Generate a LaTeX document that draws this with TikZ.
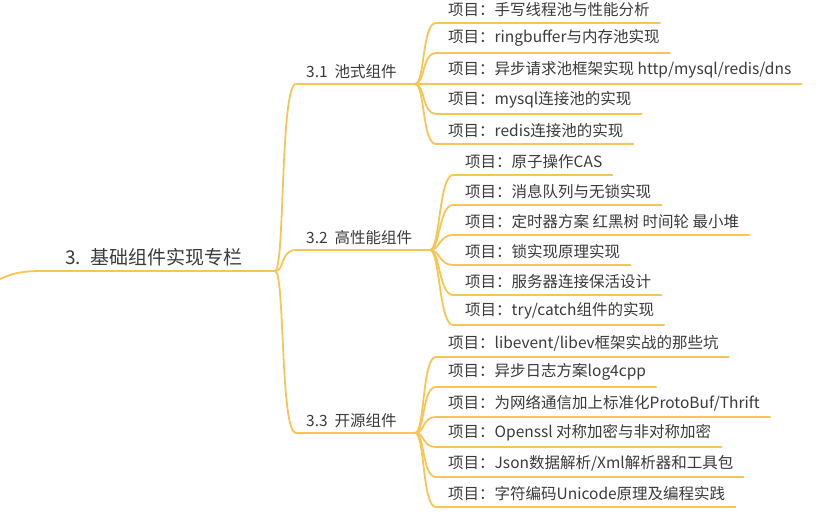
\documentclass[tikz,border=0pt]{standalone}
\usepackage{fontspec}
\setmainfont{Noto Sans CJK SC}
\usetikzlibrary{calc}
\definecolor{br}{HTML}{F8C555}
\definecolor{tx}{HTML}{3A3A3A}
\begin{document}
\begin{tikzpicture}[x=1pt,y=-1pt,
  ln/.style={draw=br,line width=1.8pt,line cap=round},
  leaf/.style={anchor=south west,inner sep=0pt,text=tx,font=\fontsize{15.5}{15.5}\selectfont},
  br2/.style={anchor=south west,inner sep=0pt,text=tx,font=\fontsize{15.5}{15.5}\selectfont},
  rt/.style={anchor=south west,inner sep=0pt,text=tx,font=\fontsize{19}{19}\selectfont}]
\useasboundingbox (0,0) rectangle (819,514);
\node[rt] (r) at (65,266) {3. \ 基础组件实现专栏};
\coordinate (rs) at (0,279);
\coordinate (rh) at (275,271);
\draw[ln] (rs) .. controls (15,272) and (25,271) .. (45,271) -- (rh);
% branches
\foreach \n/\t/\y/\e in {b1/3.1 \ 池式组件/84/415, b2/3.2 \ 高性能组件/250/430, b3/3.3 \ 开源组件/433/415}{
  \node[br2] (\n) at (306,\y-5) {\t};
  \coordinate (\n h) at (\e,\y);
  \draw[ln] (rh) .. controls (285,271) and (280,\y) .. (296,\y) -- (\n h);
}
% leaves
\foreach \n/\h/\x/\y/\t in {
 a1/b1h/448/23/{项目：手写线程池与性能分析},
 a2/b1h/448/53/{项目：ringbuffer与内存池实现},
 a3/b1h/448/84/{项目：异步请求池框架实现 http/mysql/redis/dns},
 a4/b1h/448/114/{项目：mysql连接池的实现},
 a5/b1h/448/144/{项目：redis连接池的实现},
 c1/b2h/465/175/{项目：原子操作CAS},
 c2/b2h/465/205/{项目：消息队列与无锁实现},
 c3/b2h/465/235/{项目：定时器方案 红黑树 时间轮 最小堆},
 c4/b2h/465/265/{项目：锁实现原理实现},
 c5/b2h/465/295/{项目：服务器连接保活设计},
 c6/b2h/465/325/{项目：try/catch组件的实现},
 d1/b3h/448/357/{项目：libevent/libev框架实战的那些坑},
 d2/b3h/448/387/{项目：异步日志方案log4cpp},
 d3/b3h/448/417/{项目：为网络通信加上标准化ProtoBuf/Thrift},
 d4/b3h/448/447/{项目：Openssl 对称加密与非对称加密},
 d5/b3h/448/477/{项目：Json数据解析/Xml解析器和工具包},
 d6/b3h/448/507/{项目：字符编码Unicode原理及编程实践}}{
  \node[leaf] (\n) at (\x,\y-6) {\t};
  \draw[ln] (\h) .. controls +(10,0) and +(-14,0) .. ($(\n.south west)+(-12,6)$) -- ($(\n.south east)+(10,6)$);
}
\end{tikzpicture}
\end{document}
